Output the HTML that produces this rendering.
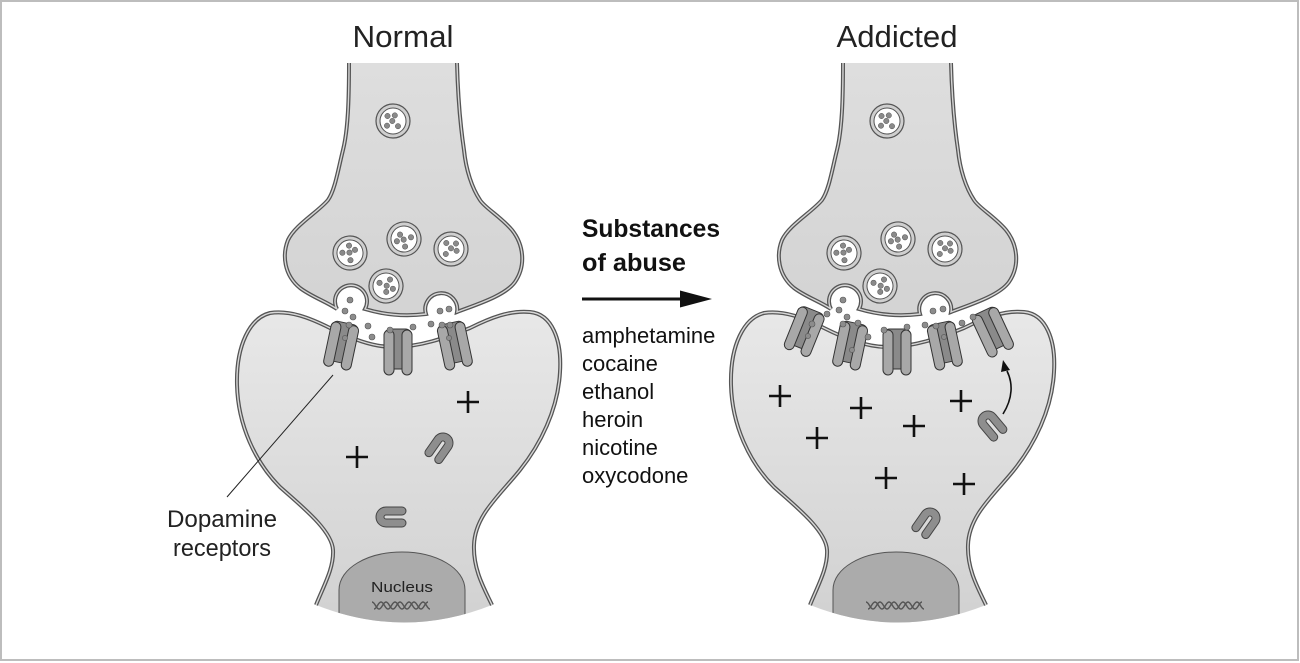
<!DOCTYPE html>
<html><head><meta charset="utf-8"><style>
html,body{margin:0;padding:0;background:#fff;}
svg{display:block;}
text{font-family:"Liberation Sans",Arial,sans-serif;}
</style></head><body>
<svg width="1300" height="663" viewBox="0 0 1300 663" xmlns="http://www.w3.org/2000/svg">
<defs>
<linearGradient id="gPre" x1="0" y1="63" x2="0" y2="320" gradientUnits="userSpaceOnUse"><stop offset="0" stop-color="#dedede"/><stop offset="1" stop-color="#d3d3d3"/></linearGradient>
<linearGradient id="gPost" x1="0" y1="310" x2="0" y2="625" gradientUnits="userSpaceOnUse"><stop offset="0" stop-color="#e8e8e8"/><stop offset="1" stop-color="#d1d1d1"/></linearGradient>
<path id="preP" d="M349,63 C349,100 348,130 343,150 C338,170 335,190 328,200 C318,212 295,225 288,240 C282,255 284,275 300,288 C312,297 325,301 337,309 A16,16 0 1,1 365,309 Q395,318 426,314 A16,16 0 1,1 457,312 C475,305 505,296 515,282 C526,266 524,245 512,230 C500,216 485,208 480,200 C472,188 466,170 464,150 C461,130 458,100 457,63"/>
<path id="postP" d="M316,605 C324,585 334,568 333,550 C332,530 300,505 280,487 C255,462 238,425 237,385 C236,345 250,318 270,313 C290,310 310,318 330,328 C350,338 372,347 393,347 C420,347 445,338 470,328 C490,318 510,310 530,312 C552,314 562,340 560,372 C558,410 540,445 520,470 C500,495 475,515 474,545 C473,570 485,590 492,605"/>
<path id="postF" d="M316,605 C324,585 334,568 333,550 C332,530 300,505 280,487 C255,462 238,425 237,385 C236,345 250,318 270,313 C290,310 310,318 330,328 C350,338 372,347 393,347 C420,347 445,338 470,328 C490,318 510,310 530,312 C552,314 562,340 560,372 C558,410 540,445 520,470 C500,495 475,515 474,545 C473,570 485,590 492,605 Q404,640 316,605 Z"/>
<clipPath id="clipPost"><path d="M316,605 C324,585 334,568 333,550 C332,530 300,505 280,487 C255,462 238,425 237,385 C236,345 250,318 270,313 C290,310 310,318 330,328 C350,338 372,347 393,347 C420,347 445,338 470,328 C490,318 510,310 530,312 C552,314 562,340 560,372 C558,410 540,445 520,470 C500,495 475,515 474,545 C473,570 485,590 492,605 Q404,640 316,605 Z"/></clipPath>
<g id="ves">
<circle r="17" fill="#cfcfcf" stroke="#555" stroke-width="1.2"/>
<circle r="13" fill="#fff" stroke="#555" stroke-width="1"/>
<g fill="#8a8a8a" stroke="#555" stroke-width="0.5">
<circle cx="-5.5" cy="-5" r="2.7"/><circle cx="1.8" cy="-5.6" r="2.7"/><circle cx="-0.7" cy="0" r="2.7"/><circle cx="-6" cy="4.7" r="2.7"/><circle cx="5" cy="5.2" r="2.7"/>
</g>
</g>
<g id="rec">
<rect x="-13.5" y="0" width="27" height="40" rx="6" fill="#8a8a8a" stroke="#333" stroke-width="1"/>
<rect x="-14" y="1" width="10" height="45" rx="5" fill="#a8a8a8" stroke="#333" stroke-width="1"/>
<rect x="4" y="1" width="10" height="45" rx="5" fill="#a8a8a8" stroke="#333" stroke-width="1"/>
</g>
<path id="uu" d="M-10,16 L-10,0 A10,10 0 0,1 10,0 L10,16 A4,4 0 0,1 2,16 L2,0 A2,2 0 0,0 -2,0 L-2,16 A4,4 0 0,1 -10,16 Z" fill="#8e8e8e" stroke="#444" stroke-width="1"/>
<path id="plus" d="M-11,0H11M0,-11V11" stroke="#111" stroke-width="2.6" fill="none"/>
<g id="dna" fill="none" stroke="#555" stroke-width="1.4">
<path d="M372,602 C375,602 376,609 379,609 S383,602 386,602 S390,609 393,609 S397,602 400,602 S404,609 407,609 S411,602 414,602 S418,609 421,609 S425,602 428,602"/>
<path d="M374,609 C377,609 378,602 381,602 S385,609 388,609 S392,602 395,602 S399,609 402,609 S406,602 409,602 S413,609 416,609 S420,602 423,602 S427,609 430,609"/>
</g>
<g id="base">
<use href="#postF" fill="url(#gPost)"/>
<g clip-path="url(#clipPost)">
<path d="M339,630 L339,590 C339,568 368,552 402,552 C436,552 465,568 465,590 L465,630 Z" fill="#ababab" stroke="#555" stroke-width="1"/>
</g>
<use href="#postP" fill="none" stroke="#555" stroke-width="4"/>
<use href="#postP" fill="none" stroke="#d8d8d8" stroke-width="1.4"/>
<use href="#preP" fill="url(#gPre)"/>
<use href="#preP" fill="none" stroke="#555" stroke-width="4"/>
<use href="#preP" fill="none" stroke="#d6d6d6" stroke-width="1.4"/>
<use href="#ves" transform="translate(393,121)"/>
<use href="#ves" transform="translate(350,253) rotate(40)"/>
<use href="#ves" transform="translate(404,239) rotate(-60)"/>
<use href="#ves" transform="translate(451,249) rotate(90)"/>
<use href="#ves" transform="translate(386,286) rotate(160)"/>
<use href="#dna"/>
</g>
</defs>

<rect x="1" y="1" width="1297" height="659" fill="#fff" stroke="#bdbdbd" stroke-width="2"/>

<text x="403" y="47" font-size="31" fill="#222" text-anchor="middle" textLength="101" lengthAdjust="spacingAndGlyphs">Normal</text>
<text x="897" y="47" font-size="31" fill="#222" text-anchor="middle" textLength="121" lengthAdjust="spacingAndGlyphs">Addicted</text>

<!-- LEFT (Normal) -->
<use href="#base"/>
<text x="402" y="592" font-size="15" fill="#222" text-anchor="middle" textLength="62" lengthAdjust="spacingAndGlyphs">Nucleus</text>
<use href="#rec" transform="translate(346,323) rotate(12)"/>
<use href="#rec" transform="translate(398,329)"/>
<use href="#rec" transform="translate(450,323) rotate(-12)"/>
<g fill="#8c8c8c" stroke="#555" stroke-width="0.6">
<circle cx="350" cy="300" r="3"/><circle cx="345" cy="311" r="3"/><circle cx="353" cy="317" r="3"/><circle cx="368" cy="326" r="3"/><circle cx="372" cy="337" r="3"/><circle cx="390" cy="330" r="3"/><circle cx="413" cy="327" r="3"/><circle cx="431" cy="324" r="3"/><circle cx="440" cy="311" r="3"/><circle cx="449" cy="309" r="3"/><circle cx="442" cy="325" r="3"/><circle cx="450" cy="325" r="3"/><circle cx="349" cy="325" r="3"/><circle cx="345" cy="338" r="2.6"/><circle cx="449" cy="338" r="2.6"/>
</g>
<use href="#plus" transform="translate(468,402)"/>
<use href="#plus" transform="translate(357,457)"/>
<use href="#uu" transform="translate(443,443) rotate(35)"/>
<use href="#uu" transform="translate(386,517) rotate(-90)"/>
<line x1="333" y1="375" x2="227" y2="497" stroke="#222" stroke-width="1"/>
<text x="222" y="527" font-size="24" fill="#222" text-anchor="middle" textLength="110" lengthAdjust="spacingAndGlyphs">Dopamine</text>
<text x="222" y="556" font-size="24" fill="#222" text-anchor="middle" textLength="98" lengthAdjust="spacingAndGlyphs">receptors</text>

<!-- MIDDLE -->
<text x="582" y="237" font-size="25" font-weight="bold" fill="#111" textLength="138" lengthAdjust="spacingAndGlyphs">Substances</text>
<text x="582" y="271" font-size="25" font-weight="bold" fill="#111" textLength="104" lengthAdjust="spacingAndGlyphs">of abuse</text>
<line x1="582" y1="299" x2="684" y2="299" stroke="#111" stroke-width="3"/>
<polygon points="680,290.5 712,299 680,307.5" fill="#111"/>
<g font-size="22" fill="#111">
<text x="582" y="343">amphetamine</text>
<text x="582" y="371">cocaine</text>
<text x="582" y="399">ethanol</text>
<text x="582" y="427">heroin</text>
<text x="582" y="455">nicotine</text>
<text x="582" y="483">oxycodone</text>
</g>

<!-- RIGHT (Addicted) -->
<use href="#base" transform="translate(494,0)"/>
<use href="#rec" transform="translate(813,310) rotate(22)"/>
<use href="#rec" transform="translate(855,323) rotate(12)"/>
<use href="#rec" transform="translate(897,329)"/>
<use href="#rec" transform="translate(940,323) rotate(-12)"/>
<use href="#rec" transform="translate(983,311) rotate(-25)"/>
<g fill="#8c8c8c" stroke="#555" stroke-width="0.6">
<circle cx="843" cy="300" r="3"/><circle cx="839" cy="310" r="3"/><circle cx="847" cy="317" r="3"/><circle cx="827" cy="314" r="3"/><circle cx="843" cy="324" r="3"/><circle cx="858" cy="323" r="3"/><circle cx="868" cy="337" r="3"/><circle cx="884" cy="330" r="3"/><circle cx="907" cy="327" r="3"/><circle cx="925" cy="325" r="3"/><circle cx="933" cy="311" r="3"/><circle cx="943" cy="309" r="3"/><circle cx="936" cy="326" r="3"/><circle cx="962" cy="323" r="3"/><circle cx="973" cy="317" r="3"/><circle cx="812" cy="324" r="3"/><circle cx="808" cy="336" r="2.6"/><circle cx="852" cy="350" r="2.6"/><circle cx="944" cy="337" r="2.6"/>
</g>
<use href="#plus" transform="translate(780,396)"/>
<use href="#plus" transform="translate(861,408)"/>
<use href="#plus" transform="translate(817,438)"/>
<use href="#plus" transform="translate(914,426)"/>
<use href="#plus" transform="translate(961,401)"/>
<use href="#plus" transform="translate(886,478)"/>
<use href="#plus" transform="translate(964,484)"/>
<use href="#uu" transform="translate(988,421) rotate(-40)"/>
<use href="#uu" transform="translate(930,518) rotate(35)"/>
<path d="M1003,414 C1013,398 1013,383 1007,371" fill="none" stroke="#111" stroke-width="1.6"/>
<polygon points="1003,360 1001,372 1010,370" fill="#111"/>
</svg>
</body></html>
